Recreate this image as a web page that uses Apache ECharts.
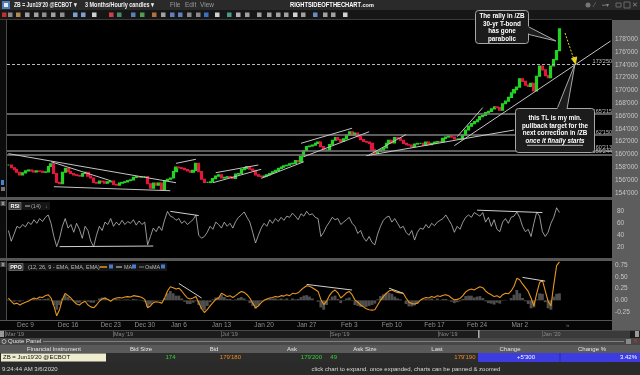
<!DOCTYPE html>
<html><head><meta charset="utf-8">
<script src="https://cdn.jsdelivr.net/npm/echarts@6/dist/echarts.min.js"></script>
<style>html,body{margin:0;padding:0;background:#000;overflow:hidden}#c{width:640px;height:375px}</style>
</head><body><div id="c"></div>
<script>
// ---------------- DATA ----------------
const days = ['Dec 5','Dec 6',
 'Dec 9','Dec 10','Dec 11','Dec 12','Dec 13',
 'Dec 16','Dec 17','Dec 18','Dec 19','Dec 20',
 'Dec 23','Dec 24','Dec 26','Dec 27',
 'Dec 30','Dec 31','Jan 2','Jan 3',
 'Jan 6','Jan 7','Jan 8','Jan 9','Jan 10',
 'Jan 13','Jan 14','Jan 15','Jan 16','Jan 17',
 'Jan 20','Jan 21','Jan 22','Jan 23','Jan 24',
 'Jan 27','Jan 28','Jan 29','Jan 30','Jan 31',
 'Feb 3','Feb 4','Feb 5','Feb 6','Feb 7',
 'Feb 10','Feb 11','Feb 12','Feb 13','Feb 14',
 'Feb 17','Feb 18','Feb 19','Feb 20','Feb 21',
 'Feb 24','Feb 25','Feb 26','Feb 27','Feb 28',
 'Mar 2','Mar 3','Mar 4','Mar 5','Mar 6',
 'Mar 9','Mar 10','Mar 11','Mar 12','Mar 13','Mar 16'];
const slotHours = ['00h','08h','16h'];
const weekLabels = ['Dec 9','Dec 16','Dec 23','Dec 30','Jan 6','Jan 13','Jan 20','Jan 27','Feb 3','Feb 10','Feb 17','Feb 24','Mar 2'];

const closes = [
158.33,157.9,157.6,157.2,156.8,157.1,157.4,157.55,157.4,157.25,
157.4,157.35,157.2,157.25,158.1,158.5,157.0,155.6,155.4,157.2,
157.8,157.3,157.0,156.8,156.7,156.6,157.0,157.2,156.6,156.3,
155.6,155.5,155.8,155.7,155.5,155.7,155.8,155.3,155.2,155.5,
155.6,155.7,155.9,156.0,156.4,156.5,156.45,156.5,156.5,155.4,
154.7,155.5,155.2,155.5,154.5,155.9,156.1,156.3,157.3,158.0,
157.9,157.8,157.6,157.4,157.2,157.5,158.6,157.3,156.1,155.6,
155.6,155.7,156.2,156.6,156.8,156.3,156.4,156.5,156.4,156.25,
156.9,157.0,157.6,157.8,158.1,157.7,157.5,156.8,156.6,156.5,
156.6,156.8,157.0,157.25,157.5,157.8,158.0,158.2,158.3,158.5,
158.6,159.0,158.8,159.7,160.6,161.2,161.3,161.45,161.7,161.9,
161.2,160.7,160.7,161.5,162.2,162.6,162.3,162.0,162.4,163.0,
163.5,163.0,163.3,162.75,162.3,162.0,161.9,161.7,160.7,160.2,
160.5,160.7,161.0,161.7,162.2,161.8,162.6,162.5,162.2,161.7,
161.5,161.45,161.2,161.6,161.7,161.7,161.45,161.9,161.5,161.7,
161.9,162.0,161.95,162.5,162.7,162.85,162.7,162.4,162.4,162.4,
163.0,163.8,164.4,164.8,165.1,165.4,165.9,166.1,166.5,166.7,
167.1,167.4,167.3,166.9,167.9,168.3,168.9,169.6,170.1,170.5,
171.8,171.4,170.8,170.6,171.1,169.9,172.2,173.8,173.2,172.3,
172.0,173.8,174.8,176.2,179.59];

const rsi = [
48,30,42,55,52,58,54,62,58,66,
60,68,63,70,74,60,38,21,35,55,
68,52,58,45,60,50,35,55,48,30,
21,40,55,48,62,58,68,55,62,57,
65,58,63,60,66,57,64,58,62,24,
38,52,46,55,48,66,80,72,70,65,
68,60,64,58,62,66,74,40,35,38,
45,55,50,62,58,52,62,55,60,52,
63,70,74,79,70,62,45,27,40,52,
60,55,66,60,68,63,70,65,72,70,
77,72,66,76,72,80,74,76,70,68,
38,45,55,62,70,66,68,58,62,66,
70,60,55,43,48,36,30,38,28,24,
42,55,65,70,72,62,68,60,52,55,
45,40,48,32,45,52,50,58,52,60,
56,62,65,68,74,66,58,45,55,50,
62,70,74,70,78,75,72,78,62,70,
55,66,50,46,62,68,60,70,72,79,
70,55,46,50,38,60,79,72,46,38,
45,60,70,86,78];

const ppo = [
0.05,-0.02,-0.08,-0.06,-0.1,-0.07,-0.04,-0.02,0.02,0.05,
0.03,0.07,0.06,0.1,0.12,0.05,-0.12,-0.33,-0.2,0.02,
0.15,0.1,0.05,-0.02,-0.08,-0.1,-0.05,-0.02,-0.1,-0.14,
-0.16,-0.1,-0.02,0.03,0.05,0.02,-0.02,0.03,0.05,0.06,
0.05,0.07,0.08,0.07,0.1,0.09,0.08,0.06,0.02,-0.16,
-0.12,-0.05,-0.03,-0.04,-0.06,0.05,0.2,0.29,0.27,0.24,
0.26,0.2,0.12,0.05,0.03,0.05,0.08,-0.05,-0.18,-0.26,
-0.2,-0.12,-0.05,0.02,0.05,0.15,0.12,0.08,0.1,0.06,
0.1,0.15,0.19,0.17,0.12,0.05,-0.06,-0.16,-0.12,-0.05,
0.0,0.03,0.05,0.06,0.08,0.07,0.1,0.09,0.12,0.1,
0.15,0.14,0.16,0.22,0.27,0.31,0.3,0.27,0.23,0.19,
0.02,-0.09,-0.02,0.1,0.18,0.22,0.16,0.05,0.1,0.16,
0.19,0.12,0.01,-0.04,-0.1,-0.14,-0.18,-0.2,-0.21,-0.2,
-0.1,0.0,0.08,0.15,0.2,0.22,0.19,0.17,0.16,0.15,
0.05,-0.04,-0.07,-0.08,-0.06,0.0,0.04,0.06,0.05,0.08,
0.06,0.1,0.08,0.11,0.12,0.1,0.05,0.01,0.02,0.04,
0.1,0.18,0.22,0.24,0.22,0.26,0.29,0.27,0.2,0.15,
0.12,0.08,0.1,0.06,0.12,0.15,0.14,0.2,0.3,0.47,
0.44,0.35,0.27,0.19,0.05,-0.12,0.15,0.38,0.43,0.2,
-0.02,-0.12,0.33,0.74,0.82];

const osma = [
0.02,-0.01,-0.03,-0.01,-0.03,-0.01,0.0,0.01,0.02,0.03,
0.01,0.03,0.02,0.03,0.04,-0.01,-0.1,-0.2,-0.1,0.04,
0.12,0.07,0.03,-0.02,-0.05,-0.05,-0.01,0.01,-0.03,-0.05,
-0.05,-0.01,0.04,0.06,0.06,0.03,-0.01,0.02,0.03,0.02,
0.01,0.02,0.02,0.01,0.03,0.02,0.01,-0.01,-0.03,-0.14,
-0.09,-0.03,-0.01,-0.01,-0.02,0.05,0.15,0.2,0.15,0.1,
0.1,0.04,-0.03,-0.08,-0.08,-0.05,-0.02,-0.1,-0.18,-0.21,
-0.12,-0.04,0.02,0.06,0.07,0.12,0.07,0.03,0.03,-0.01,
0.02,0.05,0.07,0.04,-0.01,-0.06,-0.12,-0.18,-0.11,-0.03,
0.01,0.03,0.04,0.04,0.04,0.02,0.04,0.02,0.04,0.01,
0.04,0.02,0.03,0.07,0.1,0.11,0.08,0.04,0.0,-0.03,
-0.15,-0.2,-0.1,0.02,0.08,0.1,0.03,-0.06,-0.01,0.04,
0.06,-0.01,-0.1,-0.12,-0.14,-0.14,-0.14,-0.12,-0.1,-0.07,
0.02,0.09,0.13,0.16,0.16,0.14,0.08,0.04,0.02,0.0,
-0.08,-0.13,-0.13,-0.11,-0.07,-0.01,0.02,0.03,0.02,0.04,
0.01,0.04,0.01,0.03,0.03,0.01,-0.03,-0.06,-0.04,-0.02,
0.03,0.09,0.1,0.1,0.06,0.08,0.09,0.05,-0.02,-0.06,
-0.07,-0.09,-0.05,-0.07,-0.01,0.01,0.0,0.05,0.12,0.22,
0.15,0.05,-0.02,-0.08,-0.17,-0.15,0.02,0.15,0.14,-0.04,
-0.17,-0.2,0.08,0.14,0.15];

const levelValues = [174.05, 166.3, 163.0, 160.56, 160.0];
const levelLabels = ["173'250", "165'215", "162'150", "160'213", "159'244"];
const lastLabel = "179'190";
const priceTicks = [154,156,158,160,162,164,166,168,170,172,174,176,178];
const rsiTicks = [20,40,60,80];
const ppoTicks = [-0.25,0,0.25,0.5,0.75];

const priceTrends = [
 [[0,160.1],[59,155.56]], [[16,154.94],[57,154.31]], [[15,158.84],[36,155.87]],
 [[59,158.59],[66,159.22]], [[72,155.56],[89,157.66]], [[73,157.13],[88,158.33]],
 [[89,156.25],[104,158.84]], [[103,161.72],[121,164.08]], [[104,159.63],[127,163.53]],
 [[126,159.78],[178,163.8]], [[127,159.9],[140,163.1]], [[158,162.75],[167,167.3]],
 [[157,161.35],[212,177.7]]];
const rsiTrends = [[[18,21],[51,22]], [[57,80],[67,73]], [[165,82],[188,78]]];
const ppoTrends = [[[60,0.36],[68,0.05]], [[105,0.34],[121,0.22]], [[134,0.26],[139,0.15]], [[181,0.49],[189,0.41]]];

const quoteHeaders = ['Financial Instrument','Bid Size','Bid','Ask','Ask Size','Last','Change','Change %'];
const scrollLabels = ["Mar '19","May '19","Jul '19","Sep '19","Nov '19","Jan '20"];

// ---------------- BUILD ----------------
const cats = [];
days.forEach(d => slotHours.forEach(h => cats.push(d + ' ' + h)));
const candles = closes.map((c, i) => {
  const o = i ? closes[i - 1] : c;
  return [o, c, Math.min(o, c), Math.max(o, c)];
});
const F = '"Liberation Sans", Arial, sans-serif';

function R(x, y, w, h, fill, z, extra) {
  return Object.assign({type:'rect', silent:true, z:(z === undefined ? -10 : z),
    shape:{x:x, y:y, width:w, height:h}, style:{fill:fill}}, extra || {});
}
function T(x, y, t, o) {
  o = o || {};
  const font = [o.st || '', o.w || 'normal', (o.s || 7) + 'px', o.f || F].join(' ').trim();
  return {type:'text', x:x, y:y, z:(o.z || 60), silent:true, scaleX:(o.sx || 1),
    style:{text:t, fill:(o.c || '#ccc'), font:font, align:(o.a || 'left'), textAlign:(o.a || 'left'),
      verticalAlign:'middle', textVerticalAlign:'middle'}};
}
function L(x1, y1, x2, y2, stroke, w, z, dash) {
  return {type:'line', silent:true, z:(z === undefined ? 60 : z), shape:{x1:x1, y1:y1, x2:x2, y2:y2},
    style:{stroke:stroke, lineWidth:(w || 1), lineDash:dash || null}};
}
function P(points, fill, stroke, z) {
  return {type:'polygon', silent:true, z:(z || 80), shape:{points:points}, style:{fill:fill, stroke:stroke, lineWidth:1}};
}

const G = [];
// window chrome
G.push(R(0,0,640,10,'#2a2a2a'));
G.push(R(0,10,640,10,'#161616'));
G.push(R(0,20,7,300,'#0c0c0c'));
G.push(R(6,20,1,300,'#4a4a4a'));
G.push(R(0,19,612,1,'#3a3a3a'));
G.push(R(0,197,612,3,'#575757'));
G.push(R(0,258,612,3,'#575757'));
G.push(R(612,20,28,310,'#5d5d5d'));
G.push(R(0,320,612,1,'#555'));
G.push(R(0,321,612,9,'#060606'));
// title bar
G.push(R(2,1,8,8,'#4d7fbf',5));
G.push(R(4,3,4,4,'#e8e8e8',6));
G.push(T(14,5,"ZB = Jun19'20 @ECBOT \u25BE",{c:'#f0f0f0',w:'bold',s:6.5,sx:0.78}));
G.push(T(85,5,"3 Months/Hourly candles \u25BE",{c:'#f0f0f0',w:'bold',s:6.5,sx:0.84}));
G.push(T(170,5,'File',{c:'#9a9a9a',s:6.5}));
G.push(T(185,5,'Edit',{c:'#9a9a9a',s:6.5}));
G.push(T(200,5,'View',{c:'#9a9a9a',s:6.5}));
G.push(T(290,5,'RIGHTSIDEOFTHECHART',{c:'#ffffff',w:'bold',s:8,sx:0.72}));
G.push(T(361,5.5,'.com',{c:'#ffffff',w:'bold',s:5.5}));
G.push({type:'circle', silent:true, z:20, shape:{cx:588, cy:5, r:2.5}, style:{fill:'#777'}});
G.push(T(594,5,'\u2215',{c:'#888',s:7}));
G.push(T(602,5,'\u2550\u25BE',{c:'#888',s:6}));
G.push(R(616,3,5,4,'none',20,{style:{fill:'none',stroke:'#777',lineWidth:0.8}}));
G.push(R(624,2,6,6,'none',20,{style:{fill:'none',stroke:'#777',lineWidth:0.8}}));
G.push(T(632,5,'\u2715',{c:'#888',s:7}));
// toolbar icons (decorative)
const tb = [[4,'#c03030'],[10,'#8a8a8a'],[18,'#b08a50'],[27,'#a0a0a0'],[36,'#a0a0a0'],[44,'#909090'],[53,'#a0a0a0'],[62,'#909090'],[75,'#7f9fd0'],[83,'#7f9fd0'],[94,'#d0d0d0'],[111,'#d04040'],[119,'#4a8a6a'],[133,'#5a7fb0'],[142,'#50a050'],[154,'#b07040'],[163,'#a0a0a0'],[172,'#6080c0'],[180,'#6080c0'],[189,'#8a8a8a'],[198,'#8a8a8a'],[206,'#3a70c0'],[217,'#d0d0d0'],[229,'#4a9a8a'],[238,'#b0b0b0'],[247,'#a0a0a0'],[259,'#a0a0a0'],[269,'#a0a0a0'],[278,'#a0a0a0'],[286,'#a0a0a0'],[295,'#d0d0d0'],[303,'#a0a0a0'],[315,'#6a8ac0'],[325,'#a0a0a0'],[333,'#a0a0a0'],[345,'#d0d0d0']];
tb.forEach(t => G.push(R(t[0]-2, 12.5, 4.5, 4.5, t[1], 5)));
// left column small icons
G.push(R(1,180,3,5,'#3a8ad0',5));
G.push(R(1,187,4,4,'#777',5));
G.push(R(0.5,201,5,5,'#555',5)); G.push(T(3,203.5,'x',{c:'#ddd',s:5,a:'center'}));
G.push(R(0.5,262,5,5,'#555',5)); G.push(T(3,264.5,'x',{c:'#ddd',s:5,a:'center'}));

// RSI legend
G.push(R(8,202,42,8,'#151515',40));
G.push(R(9,202.5,12,7,'#3a3a3a',41,{style:{fill:'#3a3a3a',stroke:'#888',lineWidth:0.6}}));
G.push(T(15,206,'RSI',{c:'#fff',w:'bold',s:5.5,a:'center'}));
G.push(L(25,206,30,206,'#bbb',1,42));
G.push(T(31,206,'(14)',{c:'#aaa',s:5.5}));
G.push(T(45,206,'\u2193',{c:'#5aa0e0',s:5.5}));
// PPO legend
G.push(R(7,263,160,8,'#151515',40));
G.push(R(9,263.5,14,7,'#3a3a3a',41,{style:{fill:'#3a3a3a',stroke:'#888',lineWidth:0.6}}));
G.push(T(16,267,'PPO',{c:'#fff',w:'bold',s:5.5,a:'center'}));
G.push(T(28,267,'(12, 26, 9 - EMA, EMA, EMA)',{c:'#bbb',s:5.5}));
G.push(T(93,267,'\u2193',{c:'#5aa0e0',s:5.5}));
G.push(L(100,267,107,267,'#e8961e',1.5,42));
G.push(R(109,264.5,4,4,'#4a7ad0',42));
G.push(L(116,267,122,267,'#ddd',1,42));
G.push(T(124,267,'MA',{c:'#bbb',s:5.5}));
G.push(R(132,264.5,4,4,'#4a7ad0',42));
G.push(L(139,267,144,267,'#888',1,42));
G.push(T(145,267,'OsMA',{c:'#bbb',s:5.5}));
G.push(R(161,264.5,4,4,'#4a7ad0',42));
G.push(T(566,325,'\u00BB',{c:'#777',s:6}));

// callout 1
G.push(P([[527,26],[527,34],[556,41]],'#1c1c1c','#a8a8a8',80));
G.push(R(475.5,10.5,53,33,'#1c1c1c',81,{shape:{x:475.5,y:10.5,width:53,height:33,r:3},style:{fill:'#1c1c1c',stroke:'#a8a8a8',lineWidth:1}}));
G.push(R(526,26.5,3,7,'#1c1c1c',82));
['The rally in /ZB','30-yr T-bond','has gone','parabolic'].forEach((s,i) =>
  G.push(T(502,16+i*7.8,s,{c:'#fff',w:'bold',s:6.3,a:'center',z:90})));
// callout 2
G.push(P([[557,109],[567,109],[575,64]],'#1c1c1c','#a8a8a8',80));
G.push(R(515.5,108.5,79,44,'#1c1c1c',81,{shape:{x:515.5,y:108.5,width:79,height:44,r:3},style:{fill:'#1c1c1c',stroke:'#a8a8a8',lineWidth:1}}));
G.push(R(557.5,107,9,3,'#1c1c1c',82));
['this TL is my min.','pullback target for the','next correction in /ZB'].forEach((s,i) =>
  G.push(T(555,118+i*7.8,s,{c:'#fff',w:'bold',s:6.3,a:'center',z:90})));
G.push(T(555,141.4,'once it finally starts',{c:'#fff',w:'bold',st:'italic',s:6.3,a:'center',z:90}));
G.push(L(527,145.3,583,145.3,'#fff',0.7,90));
// yellow arrow
G.push(L(565,33,573.9,59.3,'#e6d21e',1,85,[2,1.5]));
G.push(P([[575.5,64],[571.5,58.6],[576.7,56.9]],'#e6d21e','#e6d21e',86));

// bottom: scrollbar
G.push(R(0,330,640,8,'#1c1c1c'));
G.push(R(478,330,152,8,'#3a3a3a',-9));
G.push(R(0,330,640,0.8,'#5a5a5a',-8));
G.push(R(0,331,4,6,'#999',-8)); G.push(R(635,331,4,6,'#999',-8));
G.push(R(478,330,1.5,8,'#aaa',-8));
const scrollX = [6,114,222,331,439,543];
scrollLabels.forEach((s,i) => { G.push(R(scrollX[i]-1,331,0.8,6,'#666',-8)); G.push(T(scrollX[i],334,s,{c:'#8a8a8a',s:5.5})); });
// quote panel header
G.push(R(0,338,640,7,'#474747'));
G.push({type:'circle', silent:true, z:20, shape:{cx:4, cy:341.5, r:2}, style:{fill:'none', stroke:'#ddd', lineWidth:0.7}});
G.push(T(8,341.5,'Quote Panel',{c:'#e0e0e0',s:6}));
G.push(L(43,341.5,624,341.5,'#9a9a9a',0.7,20));
G.push(R(626,339,5,5,'#888',20)); G.push(T(635,341.5,'\u2715',{c:'#d03030',s:5.5,a:'center'}));
// table header
G.push(R(0,345,640,8,'#5a5a5a'));
const hdrX = [54,141,214,292,365,437,510,592];
quoteHeaders.forEach((h,i) => G.push(T(hdrX[i],349,h,{c:'#e4e4e4',s:6,a:'center'})));
// data row
G.push(R(0,353,640,9,'#2c2c2c'));
G.push(R(1,353.5,105,8,'#efedcf',-9));
G.push(R(478,353,162,9,'#3c3ce0',-9));
G.push(R(559.5,353,1,9,'#2a2aa0',-8));
G.push(T(3,357.5,"ZB = Jun19'20 @ECBOT",{c:'#111',s:6}));
G.push(T(175.5,357.5,'174',{c:'#36d236',s:6,a:'right'}));
G.push(T(241,357.5,"179'180",{c:'#f08a22',s:6,a:'right'}));
G.push(T(322,357.5,"179'200",{c:'#36d236',s:6,a:'right'}));
G.push(T(337,357.5,'49',{c:'#36d236',s:6,a:'right'}));
G.push(T(475.5,357.5,"179'190",{c:'#f08a22',s:6,a:'right'}));
G.push(T(526,357.5,"+5'300",{c:'#fff',s:6,a:'center'}));
G.push(T(637,357.5,'3.42%',{c:'#fff',s:6,a:'right'}));
// footer
G.push(R(0,362,640,13,'#2a2a2a'));
G.push(T(2,369,'9:24:44 AM 3/6/2020',{c:'#d8d8d8',s:6}));
G.push(T(406,369,'click chart to expand. once expanded, charts can be panned & zoomed',{c:'#d8d8d8',s:6,a:'center'}));

function trendData(list) { return list.map(t => [{coord:t[0]},{coord:t[1]}]); }

const xAxes = [0,1,2].map(i => ({
  type:'category', gridIndex:i, data:cats, boundaryGap:true,
  axisLine:{show:false}, axisTick:{show:false}, splitLine:{show:false},
  axisLabel: i === 2 ? {
    show:true, color:'#8e8e8e', fontSize:6.5, margin:2, fontFamily:F,
    interval:(idx, val) => idx % 3 === 0 && weekLabels.indexOf(val.replace(/ \d\dh$/,'')) >= 0,
    formatter:(val) => val.replace(/ \d\dh$/,'')
  } : {show:false}
}));

const yBase = {type:'value', position:'right', scale:true, axisLine:{show:false}, axisTick:{show:false}, splitLine:{show:false}};
const yAxes = [
  Object.assign({}, yBase, {gridIndex:0, min:153.33, max:180.99,
    axisLabel:{show:true, customValues:priceTicks, formatter:(v) => v + "'000", color:'#c6c6c6', fontSize:6.5, margin:3, fontFamily:F}}),
  Object.assign({}, yBase, {gridIndex:1, min:2, max:99,
    axisLabel:{show:true, customValues:rsiTicks, color:'#c6c6c6', fontSize:6.5, margin:5, fontFamily:F}}),
  Object.assign({}, yBase, {gridIndex:2, min:-0.42, max:0.84,
    axisLabel:{show:true, customValues:ppoTicks, formatter:(v) => v.toFixed(2), color:'#c6c6c6', fontSize:6.5, margin:3, fontFamily:F}})
];

const levelMarks = levelValues.map((v, i) => ({
  yAxis:v,
  lineStyle:{color: i === 0 ? '#b8b8b8' : '#7e7e7e', width: i === 0 ? 1 : 1.5, type: i === 0 ? [3,2] : 'solid'},
  label:{show:true, position:'insideEndTop', formatter:levelLabels[i], color:'#c0c0c0', fontSize:5.5, distance:0, fontFamily:F}
}));
const lastMark = {
  yAxis: closes[closes.length - 1],
  lineStyle:{opacity:0},
  label:{show:true, position:'end', formatter:lastLabel, backgroundColor:'#ece23a', color:'#333', fontSize:6.5, padding:[1,2,1,2], distance:1, fontFamily:F}
};

const option = {
  backgroundColor:'#000',
  animation:false,
  textStyle:{fontFamily:F},
  grid:[
    {left:7, right:28, top:20, height:177, outerBoundsMode:'none'},
    {left:7, right:28, top:200, height:58, outerBoundsMode:'none'},
    {left:7, right:28, top:261, height:59, outerBoundsMode:'none'}
  ],
  xAxis:xAxes,
  yAxis:yAxes,
  series:[
    {type:'candlestick', xAxisIndex:0, yAxisIndex:0, data:candles, barWidth:2.6,
     itemStyle:{color:'#22d422', color0:'#e3173d', borderColor:'#22d422', borderColor0:'#e3173d', borderWidth:1.2},
     emphasis:{disabled:true},
     markLine:{silent:true, symbol:['none','none'], animation:false,
       lineStyle:{color:'#c4c4c4', width:1, type:'solid'}, label:{show:false},
       data: levelMarks.concat([lastMark]).concat(trendData(priceTrends))}},
    {type:'line', xAxisIndex:1, yAxisIndex:1, data:rsi, symbol:'none', lineStyle:{color:'#bdbdbd', width:0.8},
     emphasis:{disabled:true},
     markLine:{silent:true, symbol:['none','none'], lineStyle:{color:'#d0d0d0', width:1, type:'solid'}, label:{show:false},
       data:trendData(rsiTrends)}},
    {type:'bar', xAxisIndex:2, yAxisIndex:2, data:osma, barCategoryGap:'0%', itemStyle:{color:'#4e4e4e'}, emphasis:{disabled:true}},
    {type:'line', xAxisIndex:2, yAxisIndex:2, data:ppo, symbol:'none', lineStyle:{color:'#e8961e', width:1.1},
     emphasis:{disabled:true},
     markLine:{silent:true, symbol:['none','none'], lineStyle:{color:'#d0d0d0', width:1, type:'solid'}, label:{show:false},
       data:trendData(ppoTrends)}}
  ],
  graphic:{elements:G}
};
const chart = echarts.init(document.getElementById('c'), null, {renderer:'canvas', width:640, height:375});
chart.setOption(option);
</script></body></html>
